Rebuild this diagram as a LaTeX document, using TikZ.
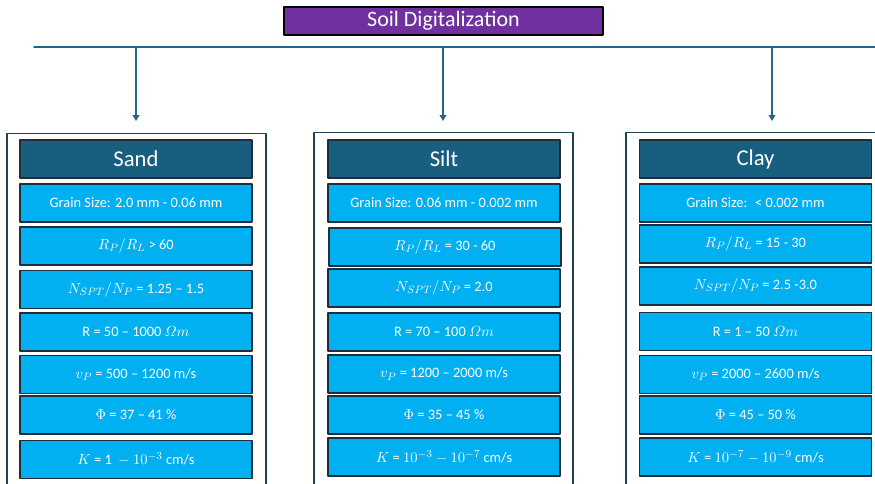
\documentclass[tikz,border=0pt]{standalone}
\usepackage{amsmath}
\usepackage{fontspec}
\setmainfont{Carlito}
\usetikzlibrary{arrows.meta}
\definecolor{titlepurple}{HTML}{7030A0}
\definecolor{headblue}{HTML}{175E7F}
\definecolor{cellblue}{HTML}{00B0F0}
\definecolor{cellline}{HTML}{1F2F3A}
\definecolor{treeline}{HTML}{21678A}
\definecolor{frameline}{HTML}{23414F}
\begin{document}
\begin{tikzpicture}[line cap=round,line join=round,>={Triangle[width=5pt,length=4.5pt]},x=0.75pt,y=-0.75pt,
  titlebox/.style={draw=black,fill=titlepurple,text=white,line width=0.9pt,inner sep=0pt,
    minimum width=239.25pt,minimum height=21pt,font=\fontsize{16.5}{18}\selectfont},
  framebox/.style={draw=frameline,fill=white,line width=1.1pt,inner sep=0pt,
    minimum width=194.25pt,minimum height=275pt},
  headbox/.style={draw=cellline,fill=headblue,text=white,line width=0.8pt,inner sep=0pt,
    minimum width=174pt,minimum height=28.5pt,font=\fontsize{17}{19}\selectfont},
  cellbox/.style={draw=cellline,fill=cellblue,text=white,line width=0.8pt,inner sep=0pt,
    minimum width=174pt,minimum height=28.5pt,font=\fontsize{10.8}{12}\selectfont},
  tree/.style={draw=treeline,line width=1.1pt}]
\useasboundingbox (0,0) rectangle (875,483);
\clip (0,0) rectangle (875,483);
% title and branches
\node[titlebox] (title) at (443.5,21) {Soil Digitalization};
\coordinate (lineL) at (34,47);
\coordinate (lineR) at (885,47);
\coordinate (sandtop) at (136,47);
\coordinate (silttop) at (443,47);
\coordinate (claytop) at (772,47);
\coordinate (sandend) at (136,121);
\coordinate (siltend) at (443,121);
\coordinate (clayend) at (772,121);
\draw [tree] (lineL) -- (lineR);
\draw [tree,->] (sandtop) -- (sandend);
\draw [tree,->] (silttop) -- (siltend);
\draw [tree,->] (claytop) -- (clayend);
% frames
\node[framebox,anchor=north] (sandframe) at (136.5,133) {};
\node[framebox,anchor=north] (siltframe) at (443.5,132) {};
\node[framebox,anchor=north] (clayframe) at (755.5,132) {};
% sand
\node[headbox] (sand) at (136,159) {Sand};
\node[cellbox] (sand1) at (136,203) {Grain Size: 2.0 mm - 0.06 mm};
\node[cellbox] (sand2) at (136,246) {$R_P/R_L$ > 60};
\node[cellbox] (sand3) at (136,289.5) {$N_{SPT}/N_P$ = 1.25 -- 1.5};
\node[cellbox] (sand4) at (136,332) {R = 50 -- 1000 $\varOmega m$};
\node[cellbox] (sand5) at (136,374.5) {$v_P$ = 500 -- 1200 m/s};
\node[cellbox] (sand6) at (136,415) {$\Phi$ = 37 -- 41 \%};
\node[cellbox] (sand7) at (136,459.5) {$K$ = 1 \ $-$ $10^{-3}$ cm/s};
% silt
\node[headbox] (silt) at (444,159) {Silt};
\node[cellbox] (silt1) at (444,203) {Grain Size: 0.06 mm - 0.002 mm};
\node[cellbox] (silt2) at (445,247) {$R_P/R_L$ = 30 - 60};
\node[cellbox] (silt3) at (444,288) {$N_{SPT}/N_P$ = 2.0};
\node[cellbox] (silt4) at (444,332) {R = 70 -- 100 $\varOmega m$};
\node[cellbox] (silt5) at (444,374) {$v_P$ = 1200 -- 2000 m/s};
\node[cellbox] (silt6) at (444,415) {$\Phi$ = 35 -- 45 \%};
\node[cellbox] (silt7) at (444,457) {$K$ = $10^{-3}$ $-$ $10^{-7}$ cm/s};
% clay
\node[headbox] (clay) at (755.5,159) {Clay};
\node[cellbox] (clay1) at (755.5,203) {Grain Size: \ < 0.002 mm};
\node[cellbox] (clay2) at (755.5,244) {$R_P/R_L$ = 15 - 30};
\node[cellbox] (clay3) at (755.5,286) {$N_{SPT}/N_P$ = 2.5 -3.0};
\node[cellbox] (clay4) at (755.5,331.5) {R = 1 -- 50 $\varOmega m$};
\node[cellbox] (clay5) at (755.5,374.5) {$v_P$ = 2000 -- 2600 m/s};
\node[cellbox] (clay6) at (755.5,415) {$\Phi$ = 45 -- 50 \%};
\node[cellbox] (clay7) at (755.5,457) {$K$ = $10^{-7}$ $-$ $10^{-9}$ cm/s};
\end{tikzpicture}
\end{document}
